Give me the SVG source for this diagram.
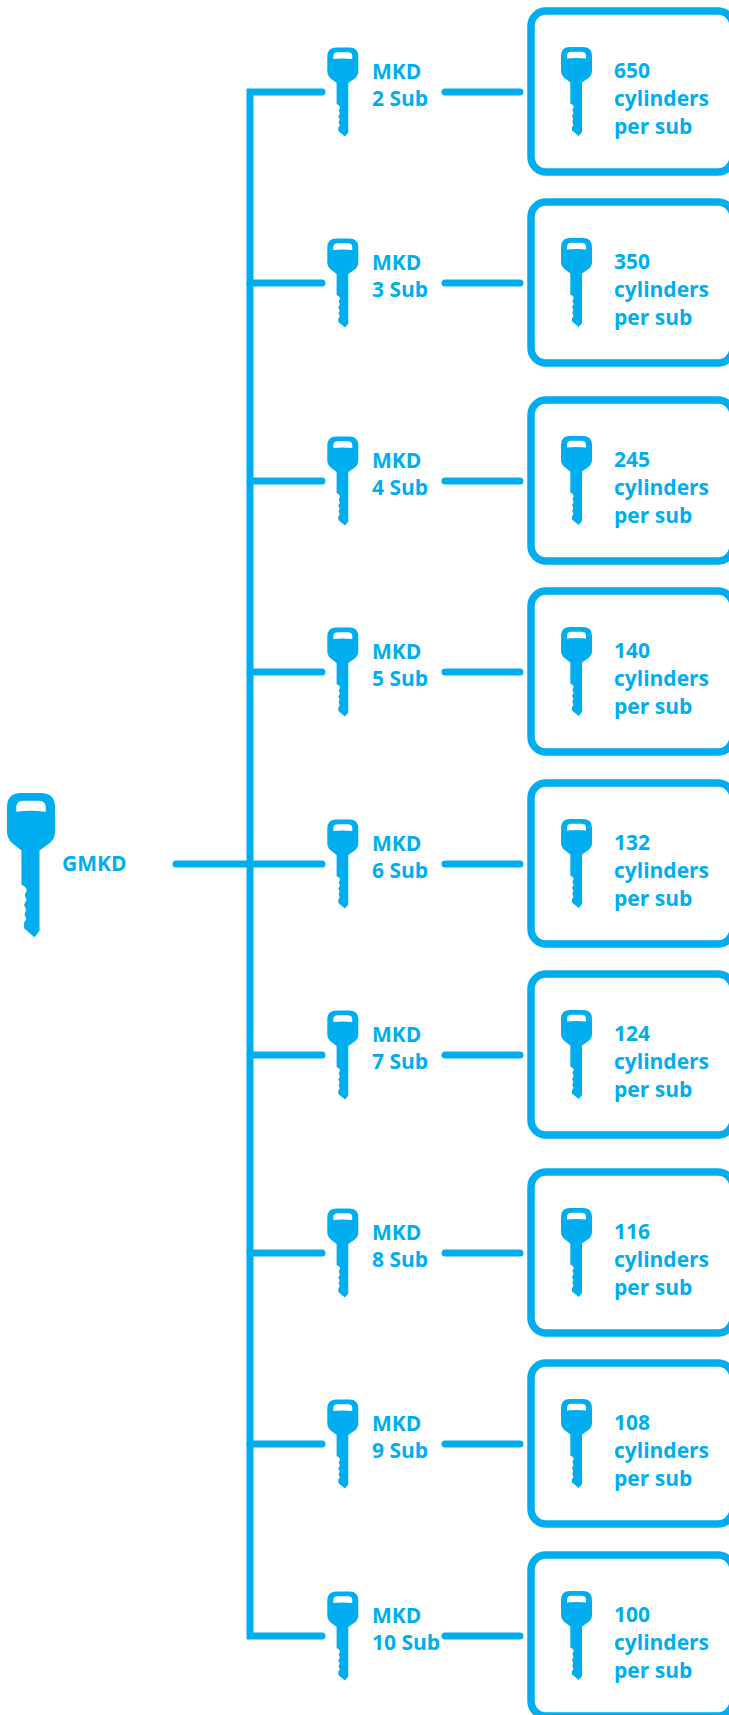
<svg xmlns="http://www.w3.org/2000/svg" xmlns:xlink="http://www.w3.org/1999/xlink" width="729" height="1715" viewBox="0 0 729 1715">
<style>
.t{font-family:"Open Sans","Noto Sans","DejaVu Sans",sans-serif;font-weight:700;font-size:21px;fill:#00AEEF}
.ln{fill:none;stroke:#00AEEF;stroke-width:7;stroke-linecap:round;stroke-linejoin:miter}
.bx{fill:none;stroke:#00AEEF;stroke-width:7.5}
.k{fill:#00AEEF;fill-rule:evenodd}
</style>
<defs>
<path id="key" class="k" d="M9,0 H22 Q31,0 31,9 V24 Q31,28 27.5,31 L21,35.5 V85 L17.7,89 L11,83.5 V80 L12.5,78 L11.3,75 L12.3,72 L11,69 L12.6,66 L11.4,63 L12.8,60 L11.8,58 L9.3,56.5 V35.5 L3.5,31 Q0,28 0,24 V9 Q0,0 9,0 Z M6,11.5 V9 Q6,4.8 10.5,4.8 H20.5 Q25,4.8 25,9 V11.5 Q15.5,10.5 6,11.5 Z"/>
</defs>
<rect width="729" height="1715" fill="#ffffff"/>
<g id="connectors">
<path class="ln" d="M322,92 H250 V1636 H322"/>
<path class="ln" d="M176,864 H322"/>
<path class="ln" d="M250,283 H322 M250,481 H322 M250,672 H322 M250,1055 H322 M250,1253 H322 M250,1444 H322"/>
<path class="ln" d="M445,92 H520 M445,283 H520 M445,481 H520 M445,672 H520 M445,864 H520 M445,1055 H520 M445,1253 H520 M445,1444 H520 M445,1636 H520"/>
</g>
<g id="gmkd">
<use xlink:href="#key" href="#key" transform="translate(7,793) scale(1.55,1.62)"/>
<text class="t" x="62" y="871">GMKD</text>
</g>
<g id="mkd2"><use href="#key" xlink:href="#key" x="327.3" y="47.5"/><text class="t" x="372" y="78.5">MKD</text><text class="t" x="372" y="106">2 Sub</text></g>
<g id="mkd3"><use href="#key" xlink:href="#key" x="327.3" y="238.5"/><text class="t" x="372" y="269.5">MKD</text><text class="t" x="372" y="297">3 Sub</text></g>
<g id="mkd4"><use href="#key" xlink:href="#key" x="327.3" y="436.5"/><text class="t" x="372" y="467.5">MKD</text><text class="t" x="372" y="495">4 Sub</text></g>
<g id="mkd5"><use href="#key" xlink:href="#key" x="327.3" y="627.5"/><text class="t" x="372" y="658.5">MKD</text><text class="t" x="372" y="686">5 Sub</text></g>
<g id="mkd6"><use href="#key" xlink:href="#key" x="327.3" y="819.5"/><text class="t" x="372" y="850.5">MKD</text><text class="t" x="372" y="878">6 Sub</text></g>
<g id="mkd7"><use href="#key" xlink:href="#key" x="327.3" y="1010.5"/><text class="t" x="372" y="1041.5">MKD</text><text class="t" x="372" y="1069">7 Sub</text></g>
<g id="mkd8"><use href="#key" xlink:href="#key" x="327.3" y="1208.5"/><text class="t" x="372" y="1239.5">MKD</text><text class="t" x="372" y="1267">8 Sub</text></g>
<g id="mkd9"><use href="#key" xlink:href="#key" x="327.3" y="1399.5"/><text class="t" x="372" y="1430.5">MKD</text><text class="t" x="372" y="1458">9 Sub</text></g>
<g id="mkd10"><use href="#key" xlink:href="#key" x="327.3" y="1591.5"/><text class="t" x="372" y="1622.5">MKD</text><text class="t" x="372" y="1650">10 Sub</text></g>
<g id="box2"><rect class="bx" x="531" y="11" width="202" height="161" rx="15"/><use href="#key" xlink:href="#key" x="561" y="47"/><text class="t" x="614" y="78">650</text><text class="t" x="614" y="106">cylinders</text><text class="t" x="614" y="134">per sub</text></g>
<g id="box3"><rect class="bx" x="531" y="202" width="202" height="161" rx="15"/><use href="#key" xlink:href="#key" x="561" y="238"/><text class="t" x="614" y="269">350</text><text class="t" x="614" y="297">cylinders</text><text class="t" x="614" y="325">per sub</text></g>
<g id="box4"><rect class="bx" x="531" y="400" width="202" height="161" rx="15"/><use href="#key" xlink:href="#key" x="561" y="436"/><text class="t" x="614" y="467">245</text><text class="t" x="614" y="495">cylinders</text><text class="t" x="614" y="523">per sub</text></g>
<g id="box5"><rect class="bx" x="531" y="591" width="202" height="161" rx="15"/><use href="#key" xlink:href="#key" x="561" y="627"/><text class="t" x="614" y="658">140</text><text class="t" x="614" y="686">cylinders</text><text class="t" x="614" y="714">per sub</text></g>
<g id="box6"><rect class="bx" x="531" y="783" width="202" height="161" rx="15"/><use href="#key" xlink:href="#key" x="561" y="819"/><text class="t" x="614" y="850">132</text><text class="t" x="614" y="878">cylinders</text><text class="t" x="614" y="906">per sub</text></g>
<g id="box7"><rect class="bx" x="531" y="974" width="202" height="161" rx="15"/><use href="#key" xlink:href="#key" x="561" y="1010"/><text class="t" x="614" y="1041">124</text><text class="t" x="614" y="1069">cylinders</text><text class="t" x="614" y="1097">per sub</text></g>
<g id="box8"><rect class="bx" x="531" y="1172" width="202" height="161" rx="15"/><use href="#key" xlink:href="#key" x="561" y="1208"/><text class="t" x="614" y="1239">116</text><text class="t" x="614" y="1267">cylinders</text><text class="t" x="614" y="1295">per sub</text></g>
<g id="box9"><rect class="bx" x="531" y="1363" width="202" height="161" rx="15"/><use href="#key" xlink:href="#key" x="561" y="1399"/><text class="t" x="614" y="1430">108</text><text class="t" x="614" y="1458">cylinders</text><text class="t" x="614" y="1486">per sub</text></g>
<g id="box10"><rect class="bx" x="531" y="1555" width="202" height="161" rx="15"/><use href="#key" xlink:href="#key" x="561" y="1591"/><text class="t" x="614" y="1622">100</text><text class="t" x="614" y="1650">cylinders</text><text class="t" x="614" y="1678">per sub</text></g>
</svg>
